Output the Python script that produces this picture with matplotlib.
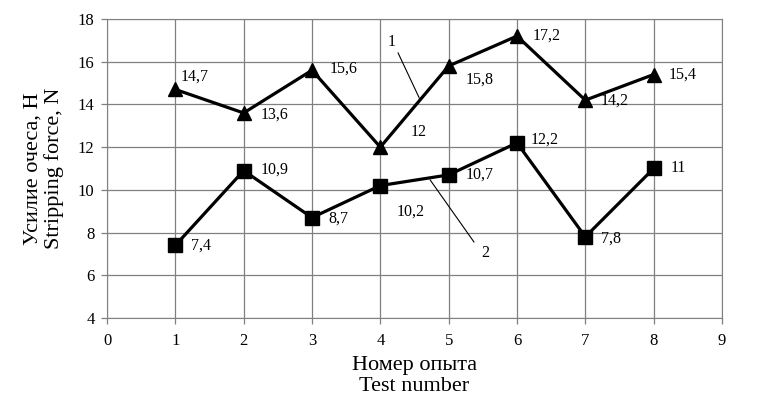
import matplotlib.pyplot as plt

plt.rcParams['font.family'] = ['Liberation Serif', 'DejaVu Serif']

tests = [1, 2, 3, 4, 5, 6, 7, 8]
force_1 = [14.7, 13.6, 15.6, 12.0, 15.8, 17.2, 14.2, 15.4]
force_2 = [7.4, 10.9, 8.7, 10.2, 10.7, 12.2, 7.8, 11.0]
labels_1 = ["14,7", "13,6", "15,6", "12", "15,8", "17,2", "14,2", "15,4"]
labels_2 = ["7,4", "10,9", "8,7", "10,2", "10,7", "12,2", "7,8", "11"]

# label offsets in points (dx, dy)
off_1 = [(4, 9), (12, -1), (13, 1), (22, 11), (12, -10), (11, 0), (11, 0), (11, 0)]
off_2 = [(11, 0), (12, 1), (12, -1), (12, -19), (12, 0), (10, 2), (11, -1), (12, 0)]

fig = plt.figure(figsize=(7.71, 4.12), dpi=100)
ax = fig.add_axes([0.1388, 0.2282, 0.7976, 0.7257])

ax.plot(tests, force_1, color='black', lw=2.3, marker='^', ms=10, zorder=3)
ax.plot(tests, force_2, color='black', lw=2.3, marker='s', ms=9.5, zorder=3)

for x, y, t, (dx, dy) in zip(tests, force_1, labels_1, off_1):
    ax.annotate(t, (x, y), xytext=(dx, dy), textcoords='offset points',
                ha='left', va='center', fontsize=11.5)
for x, y, t, (dx, dy) in zip(tests, force_2, labels_2, off_2):
    ax.annotate(t, (x, y), xytext=(dx, dy), textcoords='offset points',
                ha='left', va='center', fontsize=11.5)

# series leader lines
ax.plot([4.26, 4.57], [16.41, 14.30], color='black', lw=0.8, zorder=2)
ax.text(4.17, 16.92, "1", fontsize=11.5, ha='center', va='center')
ax.plot([4.73, 5.37], [10.46, 7.56], color='black', lw=0.8, zorder=2)
ax.text(5.53, 7.04, "2", fontsize=11.5, ha='center', va='center')

ax.set_xlim(0, 9)
ax.set_ylim(4, 18)
ax.set_xticks(range(0, 10))
ax.set_yticks(range(4, 19, 2))
ax.grid(True, color='#808080', lw=0.9)
for s in ax.spines.values():
    s.set_color('#808080')
ax.tick_params(colors='#808080', labelcolor='black', labelsize=12, length=4, width=0.9)
ax.tick_params(axis='x', pad=7)
ax.tick_params(axis='y', pad=5)

ax.set_xlabel("Номер опыта\nTest number", fontsize=16, linespacing=1.15, labelpad=5)
ax.set_ylabel("Усилие очеса, Н\nStripping force, N", fontsize=16, linespacing=1.1, labelpad=10)

plt.savefig("out.png", dpi=100)
